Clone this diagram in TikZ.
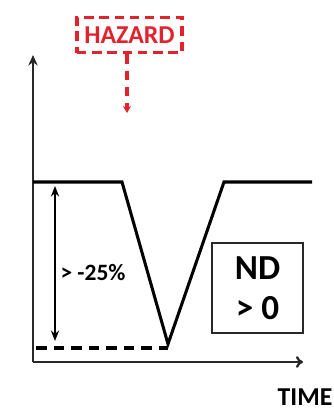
\documentclass[tikz,border=0pt]{standalone}
\usepackage{fontspec}
\setmainfont{Carlito}
\usetikzlibrary{arrows.meta}
\definecolor{hazred}{RGB}{226,34,44}
\definecolor{axisgray}{RGB}{40,40,40}

\begin{document}
\begin{tikzpicture}[x=0.03cm,y=-0.03cm,
    axis/.style={line width=2pt,axisgray},
    signal/.style={line width=2.6pt,line join=miter},
    hazbox/.style={draw=hazred,line width=2.8pt,dash pattern=on 8pt off 5pt,
        text=hazred,font=\fontsize{22}{24}\selectfont\bfseries,
        minimum width=3.15cm,minimum height=1.05cm,inner sep=0pt},
    ndbox/.style={draw=axisgray,line width=1.6pt,align=center,
        font=\fontsize{30}{34}\selectfont\bfseries,
        minimum width=2.73cm,minimum height=2.7cm,inner sep=0pt}]
    \useasboundingbox (0,0) rectangle (334,411);
    % axes
    \coordinate (o) at (33,362);
    \coordinate (ytop) at (33,55);
    \coordinate (xend) at (303,362);
    \draw[axis,-{Stealth[length=9pt,width=8pt]}] (o) -- (ytop);
    \draw[axis,-{To[length=6pt,width=10pt]}] (o) -- (xend);
    % signal with the dip
    \coordinate (s0) at (33,182);
    \coordinate (s1) at (122,182);
    \coordinate (low) at (168,344);
    \coordinate (s2) at (224,182);
    \coordinate (s3) at (312,182);
    \draw[signal] (s0) -- (s1) -- (low) -- (s2) -- (s3);
    \coordinate (dstart) at (36,348);
    \coordinate (dend) at (168,348);
    \draw[signal,dash pattern=on 9pt off 6pt] (dstart) -- (dend);
    \coordinate (atop) at (55,186);
    \coordinate (abot) at (55,341);
    \draw[line width=2pt,{Stealth[length=9pt,width=7pt]}-{Stealth[length=9pt,width=7pt]}] (atop) -- (abot);
    \node (drop) at (93,273) {\fontsize{20}{22}\selectfont\bfseries > -25\%};
    % hazard
    \node[hazbox] (hazard) at (129.5,35) {HAZARD};
    \coordinate (hit) at (127,113);
    \draw[hazred,line width=2.8pt,dash pattern=on 8pt off 6pt,-{Stealth[length=6pt,width=7pt]}] (hazard.south -| hit) -- (hit);
    % box and time label
    \node[ndbox] (nd) at (257.5,288) {ND\\> 0};
    \node[font=\fontsize{22}{24}\selectfont\bfseries] (time) at (305,397) {TIME};
\end{tikzpicture}
\end{document}
